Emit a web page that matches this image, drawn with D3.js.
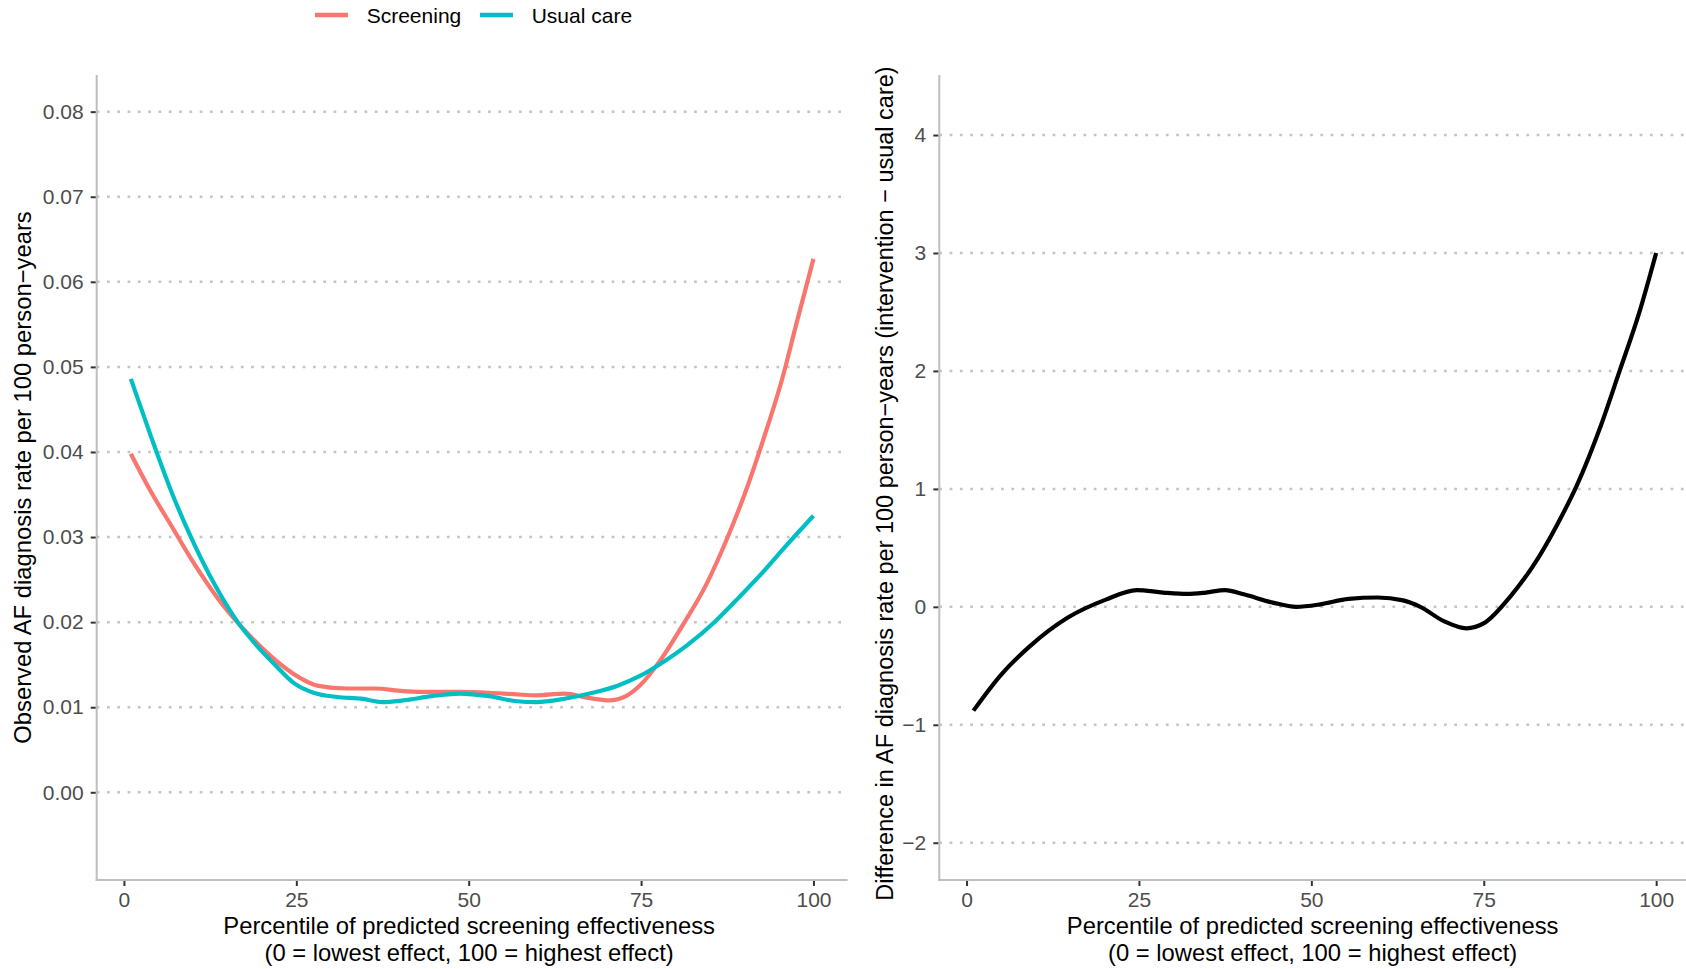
<!DOCTYPE html>
<html>
<head>
<meta charset="utf-8">
<script src="https://cdn.jsdelivr.net/npm/d3@7"></script>
<style>
  html, body { margin: 0; padding: 0; background: #ffffff; }
  svg { display: block; }
  text { font-family: "Liberation Sans", Arial, sans-serif; }
</style>
</head>
<body>
<svg id="chart" width="1686" height="969"></svg>
<script>
// ---------------- DATA ----------------
const seriesNames = ["Screening", "Usual care"];
const seriesColors = ["#F8766D", "#00BFC4"];

const screeningPct = [1.0, 3.8, 6.9, 10.0, 13.7, 17.9, 21.3, 25.4, 28.2, 32.3, 36.4, 40.5, 44.7, 48.8, 52.9, 57.0, 59.8, 63.9, 67.3, 70.4, 72.8, 74.9, 77.6, 81.0, 84.5, 87.2, 90.0, 92.7, 95.5, 97.5, 100];
const screeningRate = [0.0398, 0.0355, 0.0313, 0.0271, 0.0227, 0.0187, 0.0160, 0.0135, 0.0125, 0.0122, 0.0122, 0.0119, 0.0118, 0.0118, 0.0117, 0.0115, 0.0114, 0.0116, 0.0111, 0.0108, 0.0113, 0.0126, 0.0153, 0.0196, 0.0245, 0.0293, 0.0350, 0.0414, 0.0487, 0.0550, 0.0627];

const usualPct = [1.0, 3.8, 6.9, 10.0, 13.1, 16.5, 19.2, 22.0, 24.7, 27.5, 30.9, 34.4, 37.5, 40.5, 44.7, 48.8, 52.9, 57.0, 59.8, 63.9, 68.0, 71.5, 74.9, 77.6, 81.7, 85.9, 89.3, 92.7, 95.5, 97.5, 100];
const usualRate = [0.0486, 0.0421, 0.0353, 0.0295, 0.0245, 0.0200, 0.0173, 0.0149, 0.0128, 0.0117, 0.0112, 0.0110, 0.0106, 0.0108, 0.0113, 0.0116, 0.0113, 0.0107, 0.0106, 0.0110, 0.0117, 0.0125, 0.0137, 0.0150, 0.0173, 0.0202, 0.0230, 0.0259, 0.0285, 0.0303, 0.0325];

const diffPct = [1.0, 5.0, 9.2, 14.7, 20.2, 24.7, 28.5, 32.0, 34.7, 37.5, 40.2, 44.4, 47.8, 51.3, 55.4, 59.6, 63.3, 65.8, 69.2, 72.5, 75.1, 78.9, 83.0, 86.4, 88.5, 92.0, 94.7, 97.5, 100];
const diffValue = [-0.88, -0.576, -0.333, -0.091, 0.061, 0.142, 0.121, 0.109, 0.121, 0.142, 0.106, 0.036, 0.0, 0.021, 0.067, 0.079, 0.055, 0.0, -0.121, -0.182, -0.136, 0.091, 0.424, 0.780, 1.03, 1.540, 2.0, 2.485, 3.0];

const xTicks = [0, 25, 50, 75, 100];
const leftYTicks = [0.00, 0.01, 0.02, 0.03, 0.04, 0.05, 0.06, 0.07, 0.08];
const rightYTicks = [-2, -1, 0, 1, 2, 3, 4];

const xTitleLines = ["Percentile of predicted screening effectiveness", "(0 = lowest effect, 100 = highest effect)"];
const leftYTitle = "Observed AF diagnosis rate per 100 person\u2212years";
const rightYTitle = "Difference in AF diagnosis rate per 100 person\u2212years (intervention \u2212 usual care)";

// ---------------- LAYOUT ----------------
const svg = d3.select("#chart");
const plotTop = 75, plotBottom = 880;
const panels = [
  { x0: 96.7, x1: 847.6, yDomain: [-0.01031, 0.08431], ticks: leftYTicks, fmt: d3.format(".2f"), title: leftYTitle, titleX: 31 },
  { x0: 939.3, x1: 1690.3, yDomain: [-2.316, 4.509], ticks: rightYTicks, fmt: d => d < 0 ? "\u2212" + Math.abs(d) : String(d), title: rightYTitle, titleX: 892.5 }
];

const tickColor = "#333333";
const labelColor = "#4D4D4D";
const axisColor = "#BEBEBE";
const gridColor = "#C4C4C4";

panels.forEach((p, i) => {
  const x = d3.scaleLinear().domain([-3.95, 104.95]).range([p.x0, p.x1]);
  const y = d3.scaleLinear().domain(p.yDomain).range([plotBottom, plotTop]);
  p.x = x; p.y = y;
  const g = svg.append("g");
  const xr = Math.min(p.x1, 1686);

  // gridlines
  g.selectAll(".grid").data(p.ticks).join("line")
    .attr("x1", p.x0).attr("x2", xr)
    .attr("y1", d => y(d)).attr("y2", d => y(d))
    .attr("stroke", gridColor).attr("stroke-width", 2.5)
    .attr("stroke-dasharray", "2.7 7.6");

  // axis lines
  g.append("line").attr("x1", p.x0).attr("x2", p.x0).attr("y1", plotTop).attr("y2", plotBottom + 1)
    .attr("stroke", axisColor).attr("stroke-width", 2);
  g.append("line").attr("x1", p.x0 - 1).attr("x2", xr).attr("y1", plotBottom).attr("y2", plotBottom)
    .attr("stroke", axisColor).attr("stroke-width", 2);

  // y axis via d3
  const yAxis = d3.axisLeft(y).tickValues(p.ticks).tickFormat(p.fmt).tickSize(5).tickPadding(7);
  const ya = g.append("g").attr("transform", `translate(${p.x0 - 1},0)`).call(yAxis);
  ya.select(".domain").remove();
  ya.selectAll(".tick line").attr("stroke", tickColor).attr("stroke-width", 2);
  ya.selectAll(".tick text").attr("fill", labelColor).attr("font-size", 21)
    .attr("font-family", "Liberation Sans, Arial, sans-serif");

  // x axis via d3
  const xAxis = d3.axisBottom(x).tickValues(xTicks).tickFormat(d3.format("d")).tickSize(5).tickPadding(6);
  const xa = g.append("g").attr("transform", `translate(0,${plotBottom + 1})`).call(xAxis);
  xa.select(".domain").remove();
  xa.selectAll(".tick line").attr("stroke", tickColor).attr("stroke-width", 2);
  xa.selectAll(".tick text").attr("fill", labelColor).attr("font-size", 21)
    .attr("font-family", "Liberation Sans, Arial, sans-serif");

  // x title
  const cx = (p.x0 + xr) / 2 - (i === 0 ? 3 : 0);
  g.append("text").attr("x", cx).attr("y", 934).attr("text-anchor", "middle")
    .attr("font-size", 23.8).attr("fill", "#000").text(xTitleLines[0]);
  g.append("text").attr("x", cx).attr("y", 961).attr("text-anchor", "middle")
    .attr("font-size", 23.8).attr("fill", "#000").text(xTitleLines[1]);

  // y title
  g.append("text").attr("transform", `translate(${p.titleX},${(plotTop + plotBottom) / 2 + (i === 1 ? 6 : 0)}) rotate(-90)`)
    .attr("text-anchor", "middle").attr("font-size", i === 1 ? 23.5 : 23.8).attr("fill", "#000").text(p.title);
});

// ---------------- LINES ----------------
const lineGen = (p) => d3.line().x(d => p.x(d[0])).y(d => p.y(d[1])).curve(d3.curveMonotoneX);
const L = panels[0], R = panels[1];

const leftData = [
  d3.zip(screeningPct, screeningRate),
  d3.zip(usualPct, usualRate)
];
svg.append("g").selectAll("path").data(leftData).join("path")
  .attr("d", lineGen(L))
  .attr("fill", "none")
  .attr("stroke", (d, i) => seriesColors[i])
  .attr("stroke-width", 4.2)
  .attr("stroke-linejoin", "round");

svg.append("path").datum(d3.zip(diffPct, diffValue))
  .attr("d", lineGen(R))
  .attr("fill", "none").attr("stroke", "#000000").attr("stroke-width", 4.2)
  .attr("stroke-linejoin", "round");

// ---------------- LEGEND ----------------
const legendItems = [
  { lx: 315, tx: 366.7 },
  { lx: 480, tx: 531.7 }
];
const lg = svg.append("g");
seriesNames.forEach((name, i) => {
  lg.append("line").attr("x1", legendItems[i].lx).attr("x2", legendItems[i].lx + 33)
    .attr("y1", 15).attr("y2", 15).attr("stroke", seriesColors[i]).attr("stroke-width", 4.5);
  lg.append("text").attr("x", legendItems[i].tx).attr("y", 22.5).attr("font-size", 21)
    .attr("fill", "#000").text(name);
});
</script>
</body>
</html>
